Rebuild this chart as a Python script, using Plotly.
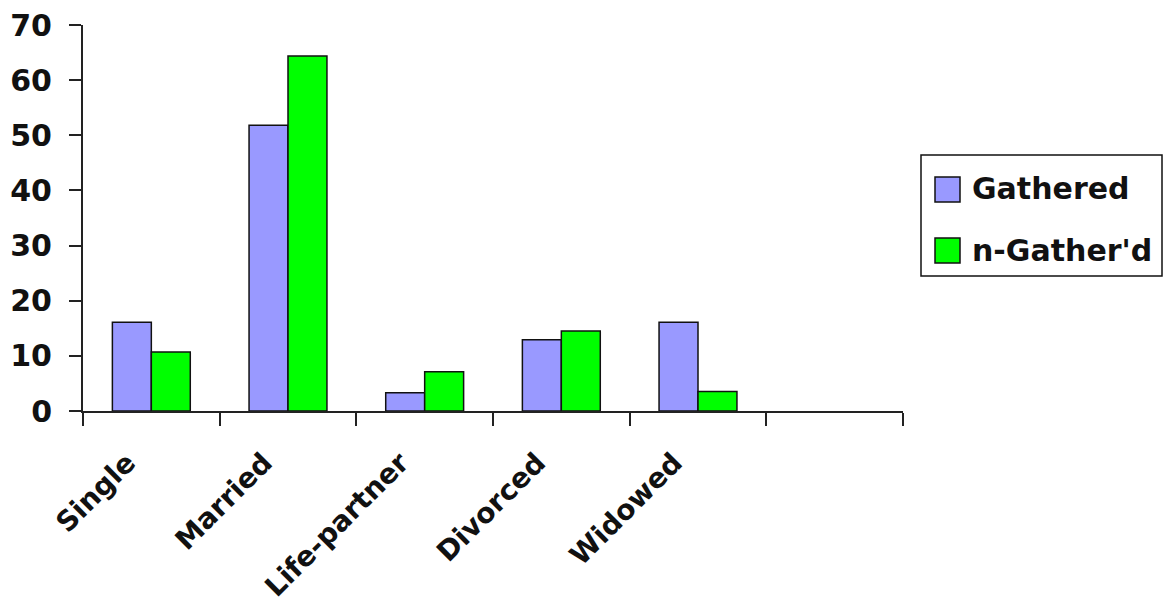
import plotly.graph_objects as go

# Marital status breakdown (percent) for the two groups
categories = ["Single", "Married", "Life-partner", "Divorced", "Widowed", " "]
gathered = [16.1, 51.8, 3.3, 12.9, 16.1, None]
not_gathered = [10.7, 64.4, 7.1, 14.5, 3.55, None]
series_names = ["Gathered", "n-Gather'd"]
series_colors = ["#9999FF", "#00FF00"]
y_ticks = [0, 10, 20, 30, 40, 50, 60, 70]

W, H = 1164, 614
M_L, M_R, M_T, M_B = 83, 261, 25, 203
FONT = "DejaVu Sans"


def px_x(px):
    return (px - M_L) / (W - M_L - M_R)


def px_y(py):
    return (H - M_B - py) / (H - M_T - M_B)


fig = go.Figure()
for name, vals, col in zip(series_names, [gathered, not_gathered], series_colors):
    fig.add_trace(go.Bar(
        x=categories, y=vals, name=name, showlegend=False,
        marker=dict(color=col, line=dict(color="#111111", width=1.5)),
    ))

# Legend box drawn in paper coordinates to the right of the plot
shapes = [dict(type="rect", xref="paper", yref="paper",
               x0=px_x(921), x1=px_x(1162), y0=px_y(276), y1=px_y(155),
               line=dict(color="#111111", width=1.5), fillcolor="white")]
annotations = []
for i, (name, col) in enumerate(zip(series_names, series_colors)):
    top = 177 + 61 * i
    shapes.append(dict(type="rect", xref="paper", yref="paper",
                       x0=px_x(935), x1=px_x(960), y0=px_y(top + 25), y1=px_y(top),
                       line=dict(color="#111111", width=1.5), fillcolor=col))
    annotations.append(dict(xref="paper", yref="paper", x=px_x(970), y=px_y(top + 12),
                            text=name, showarrow=False, xanchor="left", yanchor="middle",
                            font=dict(family=FONT, size=30, color="#111111", weight="bold")))

fig.update_layout(
    width=W, height=H,
    margin=dict(l=M_L, r=M_R, t=M_T, b=M_B),
    paper_bgcolor="white", plot_bgcolor="white",
    barmode="group", bargap=0.43, bargroupgap=0,
    shapes=shapes, annotations=annotations,
    font=dict(family=FONT, color="#111111"),
)
fig.update_xaxes(
    type="category", categoryorder="array", categoryarray=categories,
    range=[-0.5, 5.5], tickson="boundaries",
    showline=True, linecolor="#222222", linewidth=2,
    ticks="outside", ticklen=13, tickwidth=2, tickcolor="#222222",
    tickangle=-45, ticklabelstandoff=22, ticklabelshift=-24,
    tickfont=dict(family=FONT, size=28, color="#111111", weight="bold"),
    showgrid=False, zeroline=False, automargin=False,
)
fig.update_yaxes(
    range=[0, 70], tickvals=y_ticks,
    showline=True, linecolor="#222222", linewidth=2,
    ticks="outside", ticklen=12, tickwidth=2, tickcolor="#222222",
    ticklabelstandoff=11,
    tickfont=dict(family=FONT, size=30, color="#111111", weight="bold"),
    showgrid=False, zeroline=False, automargin=False,
)

fig.write_html("out.html")
